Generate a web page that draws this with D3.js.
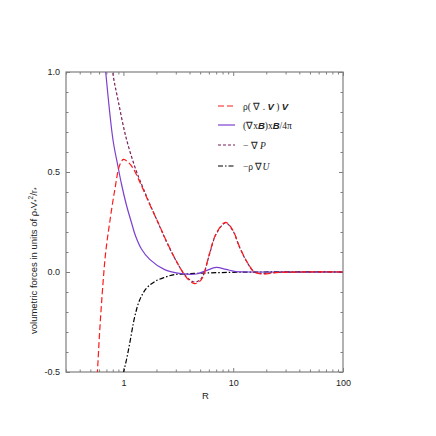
<!DOCTYPE html>
<html><head><meta charset="utf-8">
<script src="https://cdn.jsdelivr.net/npm/d3@7"></script>
<style>body{margin:0;background:#fff}svg{display:block}</style>
</head><body>
<svg id="c" width="436" height="436"></svg>
<script>
// ---- data ----
const advR = [0.56,0.58,0.609,0.652,0.69,0.751,0.834,0.926,1.0,1.1,1.22,1.41,1.73,2.14,2.46,2.9,3.25,3.6,4.0,4.45,4.9,5.29,6.09,7.0,8.5,9.9,11.4,13.6,15.6,18.5,24.7,40,100];
const advV = [-0.65,-0.5,-0.29,-0.055,0.10,0.25,0.41,0.535,0.563,0.55,0.52,0.45,0.34,0.23,0.155,0.075,0.025,-0.015,-0.043,-0.058,-0.05,-0.025,0.093,0.193,0.248,0.21,0.127,0.043,0.0,-0.01,-0.003,0,0];

const lorR = [0.66,0.69,0.804,0.893,0.96,1.065,1.18,1.29,1.46,1.735,2.375,3.367,4.61,5.68,7.0,8.6,10.6,14,100];
const lorV = [1.13,1.0,0.66,0.527,0.44,0.335,0.25,0.18,0.115,0.063,0.012,-0.008,-0.01,0.007,0.023,0.013,0.002,0,0];

const prsR = [0.77,0.804,0.893,1.065,1.31,1.46,1.62,1.73,2.14,2.46,2.9,3.25,3.6,4.0,4.45,4.9,5.29,6.09,7.0,8.5,9.9,11.4,13.6,15.6,18.5,24.7,40,100];
const prsV = [1.12,0.99,0.86,0.665,0.505,0.44,0.38,0.343,0.228,0.153,0.074,0.025,-0.012,-0.038,-0.05,-0.043,-0.02,0.09,0.19,0.245,0.208,0.125,0.042,0.0,-0.008,-0.002,0,0];

const grvR = [0.97,1.006,1.065,1.141,1.269,1.406,1.618,1.926,2.37,2.93,3.6,4.94,9.3,17.4,100];
const grvV = [-0.56,-0.5,-0.44,-0.357,-0.223,-0.14,-0.082,-0.048,-0.027,-0.0125,-0.01,-0.006,-0.002,0,0];

const xMajor = [1,10,100];
const xMinor = [0.3,0.4,0.5,0.6,0.7,0.8,0.9,2,3,4,5,6,7,8,9,20,30,40,50,60,70,80,90];
const yMajor = [-0.5,0,0.5,1.0];
const yMinor = [-0.4,-0.3,-0.2,-0.1,0.1,0.2,0.3,0.4,0.6,0.7,0.8,0.9];

// ---- chart ----
const L=66,R=343,T=72,B=372;
const svg=d3.select("#c");
const x=d3.scaleLog().domain([0.3,100]).range([L,R]);
const y=d3.scaleLinear().domain([-0.5,1.0]).range([B,T]);
const axisCol="#7f7f7f", fnt="Liberation Sans, Arial, sans-serif";

svg.append("defs").append("clipPath").attr("id","clip")
  .append("rect").attr("x",L).attr("y",T).attr("width",R-L).attr("height",B-T);

function styleAxis(g){
  g.select(".domain").remove();
  g.selectAll("line").attr("stroke",axisCol).attr("stroke-width",1);
  g.selectAll("text").attr("font-family",fnt).attr("font-size",9).attr("fill","#222");
}
svg.append("g").attr("transform",`translate(0,${B})`)
  .call(d3.axisBottom(x).tickValues(xMajor).tickSize(-4).tickPadding(8).tickFormat(d3.format("d"))).call(styleAxis);
svg.append("g").attr("transform",`translate(0,${B})`)
  .call(d3.axisBottom(x).tickValues(xMinor).tickSize(-2.5).tickFormat("")).call(styleAxis);
svg.append("g").attr("transform",`translate(0,${T})`)
  .call(d3.axisTop(x).tickValues(xMajor).tickSize(-4).tickFormat("")).call(styleAxis);
svg.append("g").attr("transform",`translate(0,${T})`)
  .call(d3.axisTop(x).tickValues(xMinor).tickSize(-2.5).tickFormat("")).call(styleAxis);
svg.append("g").attr("transform",`translate(${L},0)`)
  .call(d3.axisLeft(y).tickValues(yMajor).tickSize(-4).tickPadding(6).tickFormat(d3.format(".1f"))).call(styleAxis);
svg.append("g").attr("transform",`translate(${L},0)`)
  .call(d3.axisLeft(y).tickValues(yMinor).tickSize(-2.5).tickFormat("")).call(styleAxis);
svg.append("g").attr("transform",`translate(${R},0)`)
  .call(d3.axisRight(y).tickValues(yMajor).tickSize(-4).tickFormat("")).call(styleAxis);
svg.append("g").attr("transform",`translate(${R},0)`)
  .call(d3.axisRight(y).tickValues(yMinor).tickSize(-2.5).tickFormat("")).call(styleAxis);
svg.selectAll("text").each(function(){const t=d3.select(this);t.text(t.text().replace("−","-"));});

svg.append("rect").attr("x",L).attr("y",T).attr("width",R-L).attr("height",B-T)
  .attr("fill","none").attr("stroke",axisCol).attr("stroke-width",1.2);

// curves
const line=d3.line().x(d=>x(d[0])).y(d=>y(d[1])).curve(d3.curveCatmullRom.alpha(0.5));
const series=[
  {r:grvR,v:grvV,c:"#000000",d:"5,2,1.5,2"},
  {r:lorR,v:lorV,c:"#7b3fd0",d:null},
  {r:prsR,v:prsV,c:"#7a1f5a",d:"3,2"},
  {r:advR,v:advV,c:"#ff1a1a",d:"6,3"}
];
const pg=svg.append("g").attr("clip-path","url(#clip)");
series.forEach(s=>{
  pg.append("path").datum(s.r.map((r,i)=>[r,s.v[i]]))
    .attr("d",line).attr("fill","none").attr("stroke",s.c).attr("stroke-width",1.2)
    .attr("stroke-dasharray",s.d);
});

// legend
const lg=svg.append("g").attr("font-family","Liberation Serif, Times New Roman, serif").attr("font-size",9.5).attr("fill","#222");
const legY=[106,125,145,166];
const legS=[series[3],series[1],series[2],series[0]];
legS.forEach((s,i)=>{
  lg.append("line").attr("x1",218).attr("x2",235).attr("y1",legY[i]).attr("y2",legY[i])
    .attr("stroke",s.c).attr("stroke-width",1.2).attr("stroke-dasharray",s.d);
});
function bi(t,txt){t.append("tspan").attr("font-family",fnt).attr("font-weight","bold").attr("font-style","italic").text(txt);}
let t=lg.append("text").attr("x",243).attr("y",legY[0]+3.5);
t.append("tspan").text("ρ( ∇ . ");bi(t,"V");t.append("tspan").text(" )  ");bi(t,"V");
t=lg.append("text").attr("x",243).attr("y",legY[1]+3.5);
t.append("tspan").text("(∇x");bi(t,"B");t.append("tspan").text(")x");bi(t,"B");t.append("tspan").text("/4π");
t=lg.append("text").attr("x",243).attr("y",legY[2]+3.5);
t.append("tspan").text("− ∇ ");t.append("tspan").attr("font-style","italic").text("P");
t=lg.append("text").attr("x",243).attr("y",legY[3]+3.5);
t.append("tspan").text("−ρ ∇");t.append("tspan").attr("font-style","italic").text("U");

// axis titles
svg.append("text").attr("x",(L+R)/2+1).attr("y",399).attr("text-anchor","middle")
  .attr("font-family",fnt).attr("font-size",9.5).attr("fill","#222").text("R");
const yl=svg.append("text").attr("transform",`translate(37,334) rotate(-90)`).attr("text-anchor","start")
  .attr("font-family",fnt).attr("font-size",9.5).attr("fill","#222");
yl.append("tspan").text("volumetric forces in units of  ρ");
yl.append("tspan").attr("font-size",6.5).attr("dy",2).text("*");
yl.append("tspan").attr("dy",-2).text("V");
yl.append("tspan").attr("font-size",6.5).attr("dy",2).text("*");
yl.append("tspan").attr("font-size",6.5).attr("dy",-6).text("2");
yl.append("tspan").attr("dy",4).text("/r");
yl.append("tspan").attr("font-size",6.5).attr("dy",2).text("*");
</script>
</body></html>
